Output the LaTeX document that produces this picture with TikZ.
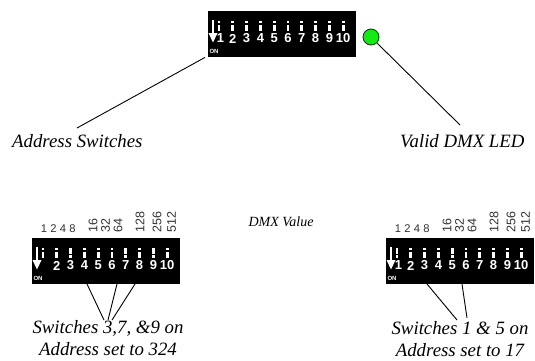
\documentclass[tikz,border=0pt]{standalone}
\usepackage{fontspec}
\setmainfont{Liberation Serif}
\newfontfamily\digitfont{Liberation Sans}
\newfontfamily\capfont{Liberation Serif}
\tikzset{
  dipbox/.style={fill=black, draw=none, minimum width=148pt, minimum height=46pt, inner sep=0pt, anchor=north west},
  dipnum/.style={text=white, font=\digitfont\bfseries\fontsize{13}{12}\selectfont, inner sep=0pt},
  onlabel/.style={text=white, font=\digitfont\bfseries\fontsize{6}{6}\selectfont, inner sep=0pt},
  weight/.style={text=black!80, font=\digitfont\fontsize{12.5}{12}\selectfont, inner sep=0pt},
  hweight/.style={weight, font=\digitfont\fontsize{11.2}{11}\selectfont, anchor=south},
  caption/.style={font=\capfont\itshape\fontsize{18.8}{22}\selectfont, inner sep=0pt, align=center},
  smallcaption/.style={font=\capfont\itshape\fontsize{14}{16}\selectfont, inner sep=0pt},
  leader/.style={draw=black, line width=0.9pt},
  ledstyle/.style={circle, draw=black!80!green, line width=0.8pt, fill={rgb,255:red,20;green,235;blue,20}, minimum size=16pt, inner sep=0pt}
}
% #1 name, #2 x, #3 y, #4 ON switches, #5 OFF switches, #6 printed numbers
\newcommand\DipSwitchDraw[6]{%
  \node[dipbox] (#1) at (#2,#3) {};
  \begin{scope}[shift={(#1.north west)}]
    \fill[white] (3.6,9) rectangle (5.8,22.5);
    \fill[white] (0.5,22) -- (9.5,22) -- (5,31.5) -- cycle;
    \node[onlabel] (#1on) at (6,40) {ON};
    \foreach \i in {#4} {
      \pgfmathsetmacro\xx{11+13.8*(\i-1)}
      \fill[white] (\xx-1.4,9.5) rectangle (\xx+1.4,15.7);
      \fill[white] (\xx-1.4,17.3) rectangle (\xx+1.4,20);
    }
    \foreach \i in {#5} {
      \pgfmathsetmacro\xx{11+13.8*(\i-1)}
      \fill[white] (\xx-1.4,9.5) rectangle (\xx+1.4,12);
      \fill[white] (\xx-1.4,13.8) rectangle (\xx+1.4,20);
    }
    \foreach \i in {#6} {
      \pgfmathsetmacro\xx{ifthenelse(\i==1,12.5,11+13.8*(\i-1))}
      \node[dipnum] (#1n\i) at (\xx,27.5) {\i};
    }
  \end{scope}
}
% weights row above a DIP: #1 name prefix, #2 x of DIP left, #3 baseline y
\newcommand\WeightRow[3]{%
  \begin{scope}[shift={(#2,#3)}]
    \node[hweight] (#1w1) at (12,0) {1};
    \node[hweight] (#1w2) at (21.5,0) {2};
    \node[hweight] (#1w4) at (31,0) {4};
    \node[hweight] (#1w8) at (40.5,0) {8};
    \node[weight, anchor=west, rotate=90] (#1w16) at (61,0) {16};
    \node[weight, anchor=west, rotate=90] (#1w32) at (73.5,0) {32};
    \node[weight, anchor=west, rotate=90] (#1w64) at (86,0) {64};
    \node[weight, anchor=west, rotate=90] (#1w128) at (108,0) {128};
    \node[weight, anchor=west, rotate=90] (#1w256) at (125,0) {256};
    \node[weight, anchor=west, rotate=90] (#1w512) at (139.5,0) {512};
  \end{scope}
}
\begin{document}
\begin{tikzpicture}[x=1pt, y=-1pt]
  \useasboundingbox[fill=white] (0,0) rectangle (535,360);

  % top DIP and LED
  \DipSwitchDraw{dipT}{208}{11}{}{1,...,10}{1,...,10}
  \node[ledstyle] (led) at (371,37) {};

  % bottom DIPs
  \DipSwitchDraw{dipL}{32}{238}{3,7,9}{1,2,4,5,6,8,10}{2,...,10}
  \DipSwitchDraw{dipR}{386}{238}{1,5}{2,3,4,6,7,8,9,10}{1,...,10}
  \WeightRow{L}{32}{233}
  \WeightRow{R}{386}{233}

  % captions
  \node[caption, anchor=base west] (addr) at (12,147) {Address Switches};
  \node[caption, anchor=base west] (valid) at (400,147) {Valid DMX LED};
  \node[smallcaption, anchor=base] (dmxv) at (281,226) {DMX Value};
  \node[caption, anchor=base] (capL) at (108,355) {Switches 3,7, \&9 on\\Address set to 324};
  \node[caption, anchor=base] (capR) at (460,356) {Switches 1 \& 5 on\\Address set to 17};

  % connector ends
  \coordinate (a0) at ([xshift=-3pt]dipT.south west);
  \coordinate (a1) at (77,128);
  \coordinate (v0) at (led.-45);
  \coordinate (v1) at (460,125);
  \coordinate (l0) at (87,284);
  \coordinate (l1) at (117,284);
  \coordinate (l2) at (135,284);
  \coordinate (lm1) at (104,320);
  \coordinate (lm2) at (108,320);
  \coordinate (lm3) at (112,320);
  \coordinate (r0) at (427,284);
  \coordinate (r1) at (462,284);
  \coordinate (rm1) at (457,320);
  \coordinate (rm2) at (467,318);

  \draw[leader] (a0) -- (a1);
  \draw[leader] (v0) -- (v1);
  \draw[leader] (l0) -- (lm1);
  \draw[leader] (l1) -- (lm2);
  \draw[leader] (l2) -- (lm3);
  \draw[leader] (r0) -- (rm1);
  \draw[leader] (r1) -- (rm2);
\end{tikzpicture}
\end{document}
